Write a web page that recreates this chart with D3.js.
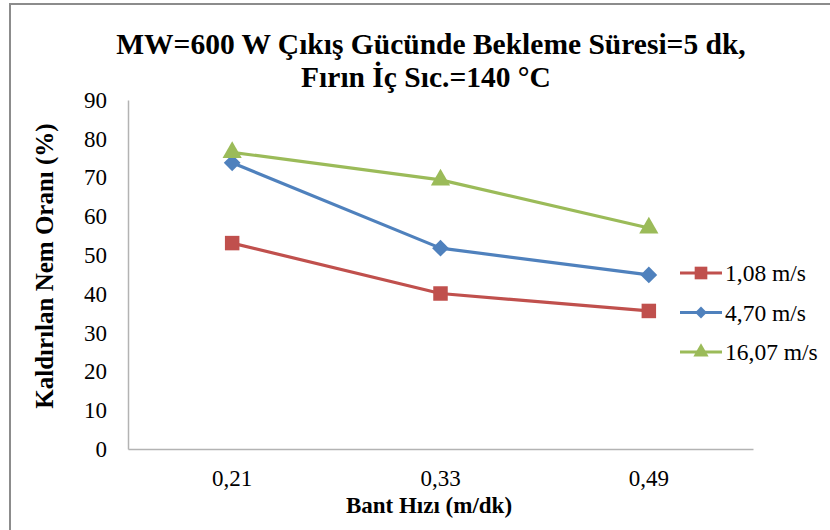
<!DOCTYPE html>
<html>
<head>
<meta charset="utf-8">
<script src="https://cdn.jsdelivr.net/npm/d3@7"></script>
<style>
  body { margin: 0; background: #fff; }
  svg { display: block; }
</style>
</head>
<body>
<script>
// categories (Bant Hızı, m/dk)
const categories = ['0,21', '0,33', '0,49'];

// series values (Kaldırılan Nem Oranı, %)
const seriesNames = ['1,08 m/s', '4,70 m/s', '16,07 m/s'];
const values108 = [53.1, 40.1, 35.6];
const values470 = [73.8, 51.8, 44.9];
const values1607 = [76.5, 69.4, 57.0];

const yTicks = [0, 10, 20, 30, 40, 50, 60, 70, 80, 90];

const titleLines = ['MW=600 W Çıkış Gücünde Bekleme Süresi=5 dk,', 'Fırın İç Sıc.=140 °C'];
const xTitle = 'Bant Hızı (m/dk)';
const yTitle = 'Kaldırılan Nem Oranı (%)';

const colors = ['#C0504D', '#4F81BD', '#9BBB59'];
const serif = 'Liberation Serif';

const W = 830, H = 530;
const margin = { top: 100, right: 77, bottom: 81, left: 128 };
const width = W - margin.left - margin.right,
      height = H - margin.top - margin.bottom;

const svg = d3.select('body').append('svg')
    .attr('width', W)
    .attr('height', H)
    .attr('font-family', serif);

// outer frame
svg.append('rect')
    .attr('x', 10).attr('y', 4)
    .attr('width', W).attr('height', H)
    .attr('fill', 'none')
    .attr('stroke', '#8c8c8c')
    .attr('stroke-width', 2);

// title, one text per line
svg.selectAll('.title')
    .data(titleLines)
    .enter()
    .append('text')
    .attr('class', 'title')
    .attr('font-family', serif)
    .attr('text-anchor', 'middle')
    .attr('font-weight', 'bold')
    .attr('font-size', 29.5)
    .attr('x', (d, i) => i ? 426 : 431)
    .attr('y', (d, i) => 54 + i * 33)
    .text(d => d);

const g = svg.append('g')
    .attr('transform', `translate(${margin.left},${margin.top})`);

const x = d3.scaleBand()
    .domain(categories)
    .range([0, width]);

const y = d3.scaleLinear()
    .domain([0, 90])
    .range([height, 0]);

// y axis
const yAxis = g.append('g')
    .call(d3.axisLeft(y).tickValues(yTicks).tickSize(0).tickPadding(21))
    .attr('font-family', serif)
    .attr('font-size', 23);
yAxis.select('.domain').attr('stroke', '#b3b3b3').attr('stroke-width', 1.5);
yAxis.selectAll('text').attr('fill', '#000');

// x axis
const xAxis = g.append('g')
    .attr('transform', `translate(0,${height})`)
    .call(d3.axisBottom(x).tickSize(0).tickPadding(21))
    .attr('font-family', serif)
    .attr('font-size', 23);
xAxis.select('.domain').attr('stroke', '#b3b3b3').attr('stroke-width', 1.5);
xAxis.selectAll('text').attr('fill', '#000');

// axis titles
svg.append('text')
    .attr('font-family', serif)
    .attr('x', 429)
    .attr('y', 513)
    .attr('text-anchor', 'middle')
    .attr('font-weight', 'bold')
    .attr('font-size', 23)
    .text(xTitle);

svg.append('text')
    .attr('font-family', serif)
    .attr('transform', 'translate(53,266) rotate(-90)')
    .attr('text-anchor', 'middle')
    .attr('font-weight', 'bold')
    .attr('font-size', 25)
    .text(yTitle);

// markers
const diamond = {
  draw(context, size) {
    const r = Math.sqrt(size / 2);
    context.moveTo(0, -r);
    context.lineTo(r, 0);
    context.lineTo(0, r);
    context.lineTo(-r, 0);
    context.closePath();
  }
};
const symbols = [
  d3.symbol().type(d3.symbolSquare).size(210),
  d3.symbol().type(diamond).size(140),
  d3.symbol().type(d3.symbolTriangle).size(160)
];
const legendSymbols = [
  d3.symbol().type(d3.symbolSquare).size(160),
  d3.symbol().type(diamond).size(70),
  d3.symbol().type(d3.symbolTriangle).size(100)
];

const series = [values108, values470, values1607];

const line = d3.line()
    .x((d, i) => x(categories[i]) + x.bandwidth() / 2)
    .y(d => y(d));

series.forEach((vals, s) => {
  g.append('path')
      .datum(vals)
      .attr('fill', 'none')
      .attr('stroke', colors[s])
      .attr('stroke-width', 3.2)
      .attr('stroke-linejoin', 'round')
      .attr('d', line);

  g.selectAll('.marker' + s)
      .data(vals)
      .enter()
      .append('path')
      .attr('class', 'marker' + s)
      .attr('transform', (d, i) => `translate(${x(categories[i]) + x.bandwidth() / 2},${y(d)})`)
      .attr('d', symbols[s])
      .attr('fill', colors[s]);
});

// legend
const legend = svg.append('g')
    .attr('transform', 'translate(680,273)');

const items = legend.selectAll('g')
    .data(seriesNames)
    .enter()
    .append('g')
    .attr('transform', (d, i) => `translate(0,${i * 39.5})`);

items.append('line')
    .attr('x1', 0).attr('x2', 42)
    .attr('stroke', (d, i) => colors[i])
    .attr('stroke-width', 3.2);

items.append('path')
    .attr('transform', 'translate(21,0)')
    .attr('d', (d, i) => legendSymbols[i]())
    .attr('fill', (d, i) => colors[i]);

items.append('text')
    .attr('font-family', serif)
    .attr('x', 45)
    .attr('y', 8)
    .attr('font-size', 23.5)
    .text(d => d);
</script>
</body>
</html>
